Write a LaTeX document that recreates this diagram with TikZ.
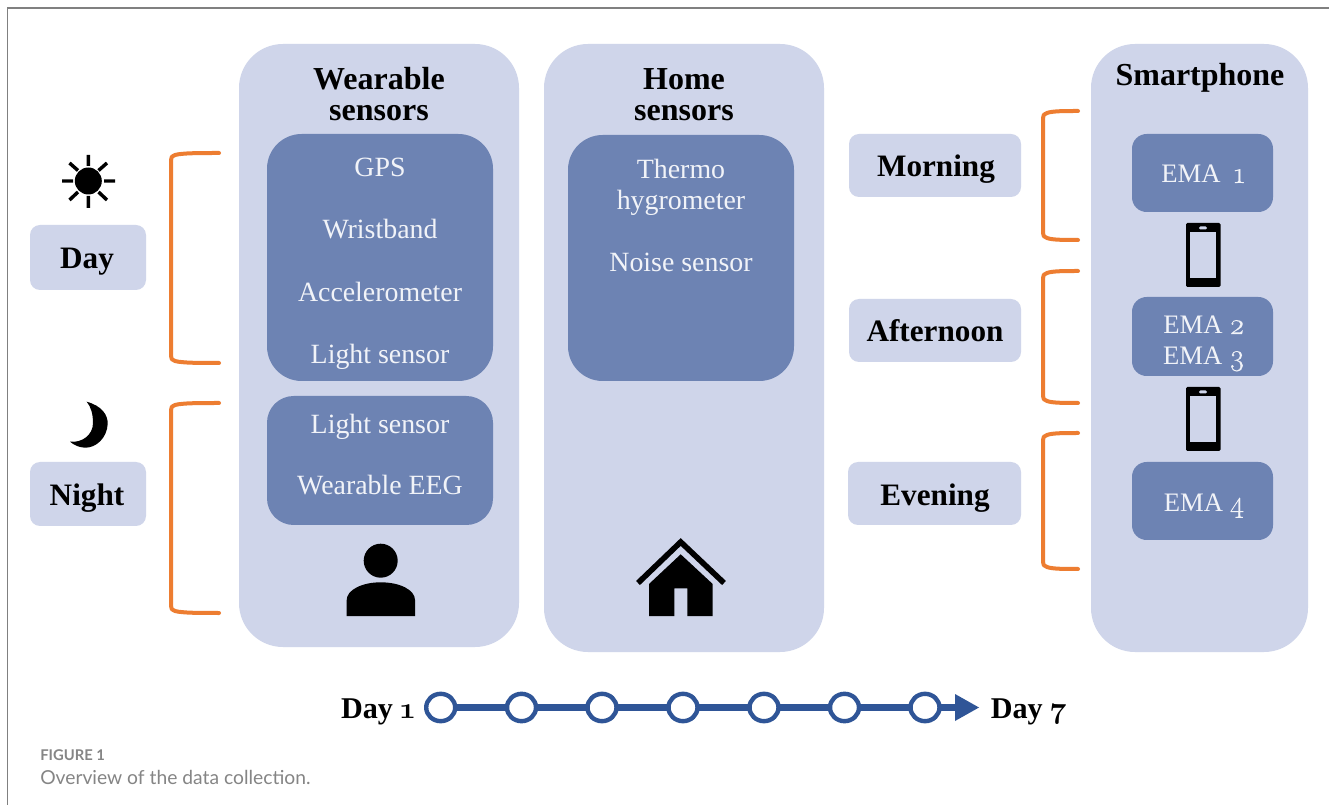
\documentclass[tikz,border=0pt]{standalone}
\usepackage{fontspec}
\setmainfont{Liberation Serif}
\newfontfamily\capfont{Lato}
\newfontfamily\osf[Numbers=OldStyle]{Latin Modern Roman}
\newfontfamily\osfl[Numbers=OldStyle,FakeBold=0.5,Scale=1.12]{Latin Modern Roman}
\newcommand{\od}[1]{{\osf #1}}
\newcommand{\odl}[1]{{\osfl #1}}
\definecolor{panel}{HTML}{CFD5EA}
\definecolor{inner}{HTML}{6D83B3}
\definecolor{brk}{HTML}{ED7D31}
\definecolor{tl}{HTML}{2F5597}
\definecolor{frameg}{HTML}{808080}
\definecolor{capg}{HTML}{858585}
\definecolor{intext}{HTML}{F1F3F8}
\tikzset{
  x=0.75pt,y=-0.75pt,
  panelbox/.style={fill=panel,rounded corners=33pt},
  innerbox/.style={fill=inner,rounded corners=26pt},
  emabox/.style={fill=inner,rounded corners=11pt},
  tagbox/.style={fill=panel,rounded corners=7.5pt},
  head/.style={anchor=base,font=\fontsize{24}{24}\selectfont\bfseries,text=black,align=center,inner sep=0},
  tag/.style={head,font=\fontsize{23.4}{24}\selectfont\bfseries},
  daytag/.style={head,font=\fontsize{22.6}{24}\selectfont\bfseries},
  lab/.style={anchor=base,font=\fontsize{20.9}{23}\selectfont,text=intext,align=center,inner sep=0},
  emalab/.style={lab,font=\fontsize{20}{23}\selectfont},
  brack/.style={draw=brk,line width=3pt,line cap=round,line join=round},
  dot/.style={circle,draw=tl,line width=3.3pt,fill=white,minimum width=20.5pt,minimum height=20.5pt,inner sep=0,outer sep=0pt,xscale=1.06},
  tlline/.style={draw=tl,line width=5.8pt},
}
\newcommand{\phonepic}[1]{%
  \begin{scope}[yshift=#1*-0.75pt]
    \fill[black,rounded corners=1pt] (1186,223) rectangle (1220.5,287);
    \fill[panel] (1190,232) rectangle (1216,278);
    \fill[panel,rounded corners=1pt] (1199,226.5) rectangle (1207,229.5);
  \end{scope}}
\begin{document}
\begin{tikzpicture}
\useasboundingbox (0,0) rectangle (1329,805);
\fill[white] (0,0) rectangle (1329,805);
\draw[frameg,line width=1pt] (7.5,805) -- (7.5,8) -- (1329,8);

% panels
\path[panelbox] (239,44) rectangle (519,647);
\path[panelbox] (544,44) rectangle (824,652);
\path[panelbox] (1091,44) rectangle (1308,652);
\path[innerbox] (267,134) rectangle (493,381);
\path[innerbox,rounded corners=20pt] (267,396) rectangle (493,525);
\path[innerbox] (568,135) rectangle (794,381);
\path[emabox] (1132,134) rectangle (1273,212);
\path[emabox] (1132,297) rectangle (1273,376);
\path[emabox] (1132,462) rectangle (1273,540);
\path[tagbox] (30,225) rectangle (146,290);
\path[tagbox] (30,462) rectangle (146,526);
\path[tagbox] (849,134) rectangle (1021,197);
\path[tagbox] (849,299) rectangle (1021,362);
\path[tagbox] (848,462) rectangle (1021,525);

% headings
\node[head] (wh1) at (379,90) {Wearable};
\node[head] (wh2) at (379,121) {sensors};
\node[head] (hh1) at (684,90) {Home};
\node[head] (hh2) at (684,121) {sensors};
\node[head] (sh) at (1200,86) {Smartphone};
\node[tag] (tday) at (87,269) {Day};
\node[tag] (tnight) at (87,506) {Night};
\node[tag] (tmorn) at (936,177) {Morning};
\node[tag] (taft) at (935,342) {Afternoon};
\node[tag] (teve) at (935,506) {Evening};

% inner labels
\node[lab] (l1) at (380,177) {GPS};
\node[lab] (l2) at (380,239) {Wristband};
\node[lab] (l3) at (380,302) {Accelerometer};
\node[lab] (l4) at (380,364) {Light sensor};
\node[lab] (l5) at (380,434) {Light sensor};
\node[lab] (l6) at (380,495) {Wearable EEG};
\node[lab] (l7) at (681,179) {Thermo};
\node[lab] (l8) at (681,210) {hygrometer};
\node[lab] (l9) at (681,272) {Noise sensor};
\node[emalab] (e1) at (1203,183) {EMA\ \ \odl{1}};
\node[emalab] (e2) at (1204,334) {EMA \odl{2}};
\node[emalab] (e3) at (1204,365) {EMA \odl{3}};
\node[emalab] (e4) at (1204,512) {EMA \odl{4}};

% brackets
\draw[brack] (219,153) .. controls (200,153) and (182,153) .. (175,155) .. controls (172,156) and (171,157) .. (171,160) -- (171,356) .. controls (171,359) and (172,360) .. (175,361) .. controls (182,363) and (200,363) .. (219,363);
\draw[brack] (219,403) .. controls (200,403) and (182,403) .. (175,405) .. controls (172,406) and (171,407) .. (171,410) -- (171,606) .. controls (171,609) and (172,610) .. (175,611) .. controls (182,613) and (200,613) .. (219,613);
\draw[brack] (1078,111) .. controls (1065,111) and (1052,111) .. (1047,113) .. controls (1044,114) and (1043,115) .. (1043,118) -- (1043,233) .. controls (1043,236) and (1044,237) .. (1047,238) .. controls (1052,240) and (1065,240) .. (1078,240);
\draw[brack] (1078,271) .. controls (1065,271) and (1052,271) .. (1047,273) .. controls (1044,274) and (1043,275) .. (1043,278) -- (1043,396) .. controls (1043,399) and (1044,400) .. (1047,401) .. controls (1052,403) and (1065,403) .. (1078,403);
\draw[brack] (1078,433) .. controls (1065,433) and (1052,433) .. (1047,435) .. controls (1044,436) and (1043,437) .. (1043,440) -- (1043,562) .. controls (1043,565) and (1044,566) .. (1047,567) .. controls (1052,569) and (1065,569) .. (1078,569);

% sun
\fill[black] (88.3,181) circle[radius=13.5];
\draw[black,line width=2.6pt]
  (88.3,155) -- (88.3,166) (88.3,196) -- (88.3,208)
  (62,181) -- (73,181) (104,181) -- (115,181)
  (69.5,163) -- (78,170.5) (107,163) -- (98.5,170.5)
  (69.5,200) -- (78,192) (107,200) -- (98.5,192);
% moon
\fill[black] (86.7,401.7) .. controls (102,406) and (108,415) .. (107.7,424) .. controls (107,438) and (96,448) .. (85,447.7) .. controls (79,447.5) and (74,445) .. (70,441.7) .. controls (82,443) and (93,435) .. (93,423) .. controls (93,414) and (91,407) .. (86.7,401.7) -- cycle;
% person
\fill[black] (380.7,560.7) circle[radius=17];
\fill[black] (346.7,616) -- (346.7,600) .. controls (346.7,590) and (362,582.3) .. (380.7,582.3) .. controls (400,582.3) and (415,590) .. (415,600) -- (415,616) -- cycle;
% house
\draw[black,line width=4.2pt] (638,583) -- (680.7,542) -- (724,583);
\fill[black] (680.7,554.3) -- (712.7,584) -- (712.7,616) -- (687.3,616) -- (687.3,588.3) -- (674.3,588.3) -- (674.3,616) -- (649,616) -- (649,584) -- cycle;
% phones
\phonepic{0}
\phonepic{164}

% timeline
\node[daytag] (d1) at (378,718) {Day \od{1}};
\node[daytag] (d7) at (1029,718) {Day \od{7}};
\coordinate (tipbase) at (956,707.5);
\foreach \n/\x in {a/440.7,b/521.5,c/602,d/683,e/764,f/844.5,g/925}
  \node[dot] (c\n) at (\x,707.5) {};
\draw[tlline] (ca) -- (cb);
\draw[tlline] (cb) -- (cc);
\draw[tlline] (cc) -- (cd);
\draw[tlline] (cd) -- (ce);
\draw[tlline] (ce) -- (cf);
\draw[tlline] (cf) -- (cg);
\draw[tlline] (cg) -- (tipbase);
\fill[tl] (955,694) -- (979,707.5) -- (955,721) -- cycle;

% caption
\node[anchor=base west,inner sep=0,font=\capfont\fontsize{11.1}{12}\selectfont\bfseries,text=capg] (figl) at (40,760) {FIGURE 1};
\node[anchor=base west,inner sep=0,font=\capfont\fontsize{14.45}{16}\selectfont,text=capg] (figc) at (40,784) {Overview of the data collection.};
\end{tikzpicture}
\end{document}
